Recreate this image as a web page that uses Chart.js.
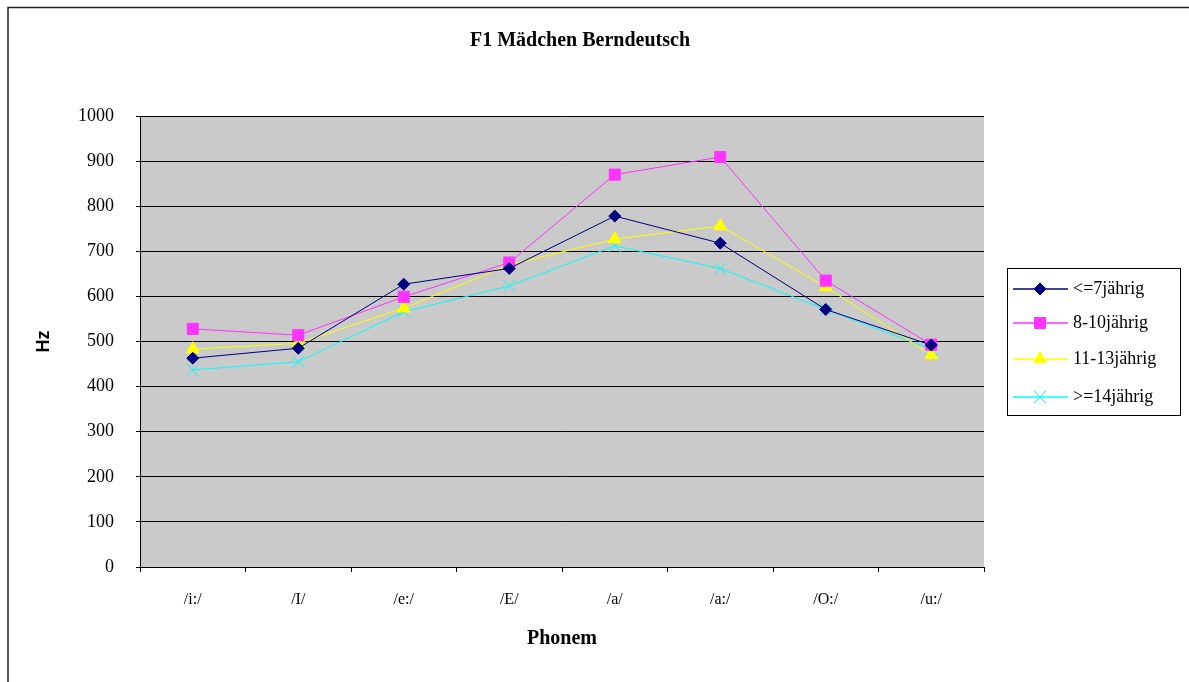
<!DOCTYPE html>
<html>
<head>
<meta charset="utf-8">
<script src="https://cdn.jsdelivr.net/npm/chart.js@4/dist/chart.umd.min.js"></script>
<style>
  html, body { margin: 0; padding: 0; background: #fff; }
  #wrap { width: 1189px; height: 682px; }
  canvas { display: block; }
</style>
</head>
<body>
<div id="wrap"><canvas id="c" width="1189" height="682"></canvas></div>
<script>
// Phoneme categories on the x axis
const phonemes = ['/i:/', '/I/', '/e:/', '/E/', '/a/', '/a:/', '/O:/', '/u:/'];

// F1 means (Hz) per age group
const ageUpTo7  = [463, 485, 627, 662, 778, 718, 571, 492];
const age8to10  = [528, 514, 599, 675, 870, 909, 635, 493];
const age11to13 = [483, 496, 574, 670, 727, 756, 621, 470];
const age14plus = [437, 455, 566, 623, 712, 662, 571, 483];

const seriesNames = ['<=7jährig', '8-10jährig', '11-13jährig', '>=14jährig'];
const yTickValues = [0, 100, 200, 300, 400, 500, 600, 700, 800, 900, 1000];

const chartTitle = 'F1 Mädchen Berndeutsch';
const xTitle = 'Phonem';
const yTitle = 'Hz';

const SERIF = "'Liberation Serif', 'Times New Roman', serif";
const SANS = "'Liberation Sans', Arial, sans-serif";

function series(label, data, color, style, radius) {
  return {
    label, data,
    borderColor: color,
    backgroundColor: color,
    pointBackgroundColor: color,
    pointBorderColor: color,
    borderWidth: 1,
    pointStyle: style,
    pointRadius: radius,
    pointHoverRadius: radius,
    pointBorderWidth: 1,
    tension: 0
  };
}

// Page frame, grey plot background and the title
const framePlugin = {
  id: 'frame',
  beforeDraw(chart) {
    const { ctx, chartArea: a } = chart;
    ctx.save();
    ctx.fillStyle = '#fff';
    ctx.fillRect(0, 0, chart.width, chart.height);
    ctx.strokeStyle = '#222';
    ctx.lineWidth = 1.5;
    ctx.beginPath();
    ctx.moveTo(8, chart.height);
    ctx.lineTo(8, 7.5);
    ctx.lineTo(chart.width, 7.5);
    ctx.stroke();
    ctx.fillStyle = '#cacaca';
    ctx.fillRect(a.left, a.top, a.right - a.left, a.bottom - a.top);
    ctx.restore();
  },
  afterDraw(chart) {
    const { ctx } = chart;
    ctx.save();
    ctx.fillStyle = '#000';
    ctx.font = 'bold 20px ' + SERIF;
    ctx.textAlign = 'center';
    ctx.textBaseline = 'middle';
    ctx.fillText(chartTitle, 580, 41);
    ctx.restore();
  }
};

// Boxed legend on the right
const boxLegendPlugin = {
  id: 'boxLegend',
  afterDraw(chart) {
    const { ctx } = chart;
    const bx = 1007, by = 268, bw = 173, bh = 147;
    const rows = [289, 323, 359, 397];
    ctx.save();
    ctx.fillStyle = '#fff';
    ctx.fillRect(bx, by, bw, bh);
    ctx.strokeStyle = '#000';
    ctx.lineWidth = 1;
    ctx.strokeRect(bx + 0.5, by + 0.5, bw, bh);
    chart.data.datasets.forEach((ds, i) => {
      const y = rows[i];
      ctx.strokeStyle = ds.borderColor;
      ctx.lineWidth = 1.5;
      ctx.beginPath();
      ctx.moveTo(1013, y);
      ctx.lineTo(1068, y);
      ctx.stroke();
      ctx.fillStyle = ds.pointBackgroundColor;
      ctx.strokeStyle = ds.pointBorderColor;
      ctx.lineWidth = 1;
      Chart.helpers.drawPoint(ctx, {
        pointStyle: ds.pointStyle, radius: ds.pointRadius, rotation: 0, borderWidth: 1
      }, 1040, y);
      ctx.fillStyle = '#000';
      ctx.font = '18px ' + SERIF;
      ctx.textAlign = 'left';
      ctx.textBaseline = 'middle';
      ctx.fillText(ds.label, 1073, y);
    });
    ctx.restore();
  }
};

new Chart(document.getElementById('c'), {
  type: 'line',
  data: {
    labels: phonemes,
    datasets: [
      series(seriesNames[0], ageUpTo7,  '#000080', 'rectRot', 6),
      series(seriesNames[1], age8to10,  '#ff33ff', 'rect', 7.8),
      series(seriesNames[2], age11to13, '#ffff00', 'triangle', 7.5),
      series(seriesNames[3], age14plus, '#00ffff', 'crossRot', 8.5)
    ]
  },
  options: {
    responsive: false,
    animation: false,
    devicePixelRatio: 1,
    layout: { padding: { left: 0, top: 116, right: 205, bottom: 0 } },
    plugins: {
      legend: { display: false },
      title: { display: false },
      tooltip: { enabled: false }
    },
    scales: {
      x: {
        offset: true,
        grid: { display: true, drawOnChartArea: false, drawTicks: true, tickLength: 5, offset: true, color: '#000' },
        border: { color: '#000', width: 1 },
        ticks: { color: '#000', font: { family: SERIF, size: 16 }, padding: 18, maxRotation: 0, autoSkip: false },
        title: { display: true, text: xTitle, color: '#000', font: { family: SERIF, size: 20, weight: 'bold' }, padding: { top: 0, bottom: 31 } },
        afterFit(s) { s.height = 115; }
      },
      y: {
        min: 0, max: 1000,
        afterBuildTicks(s) { s.ticks = yTickValues.map(v => ({ value: v })); },
        grid: { color: '#000', lineWidth: 1, tickLength: 4, drawTicks: true },
        border: { color: '#000', width: 1 },
        ticks: { color: '#000', font: { family: SERIF, size: 18 }, padding: 22, callback: v => String(v) },
        title: { display: true, text: yTitle, color: '#000', font: { family: SANS, size: 18, weight: 'bold' }, padding: { top: 33, bottom: 0 } },
        afterFit(s) { s.width = 140; }
      }
    }
  },
  plugins: [framePlugin, boxLegendPlugin]
});
</script>
</body>
</html>
